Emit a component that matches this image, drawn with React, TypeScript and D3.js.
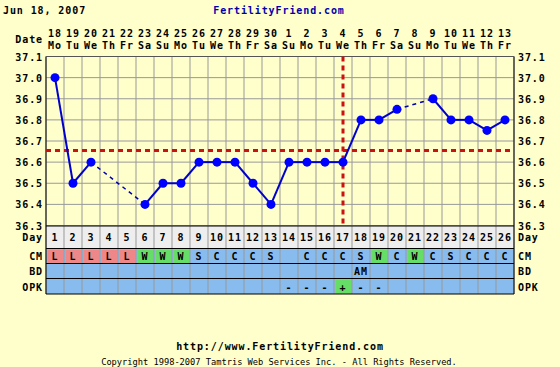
import React from "react";
import * as d3 from "d3";

const days = d3.range(1, 27);
const dates = ["18","19","20","21","22","23","24","25","26","27","28","29","30","1","2","3","4","5","6","7","8","9","10","11","12","13"];
const weekdays = ["Mo","Tu","We","Th","Fr","Sa","Su","Mo","Tu","We","Th","Fr","Sa","Su","Mo","Tu","We","Th","Fr","Sa","Su","Mo","Tu","We","Th","Fr"];
const temps: (number | null)[] = [37.0,36.5,36.6,null,null,36.4,36.5,36.5,36.6,36.6,36.6,36.5,36.4,36.6,36.6,36.6,36.6,36.8,36.8,36.85,null,36.9,36.8,36.8,36.75,36.8];
const yTicks = [37.1,37.0,36.9,36.8,36.7,36.6,36.5,36.4,36.3];
const cm = ["L","L","L","L","L","W","W","W","S","C","C","C","S","","C","C","C","S","W","C","W","C","S","C","C","C"];
const bd = ["","","","","","","","","","","","","","","","","","AM","","","","","","","",""];
const opk = ["","","","","","","","","","","","","","-","-","-","+","-","-","","","","","","",""];
const coverline = 36.655;
const ovulationDay = 17;

const W = 560, H = 367;
const X0 = 46, X1 = 514;
const bg = "#FFFFCC";
const mono = "'DejaVu Sans Mono', monospace";

export default function App() {
  const x = d3.scaleLinear().domain([0.5, 26.5]).range([X0, X1]);
  const y = d3.scaleLinear().domain([36.3, 37.1]).range([225.5, 56.5]);
  const colW = x(2) - x(1);

  const solid: [number, number][][] = [];
  const dashed: [number, number][][] = [];
  let prev: number | null = null;
  temps.forEach((t, i) => {
    if (t == null) return;
    if (prev != null) {
      const seg: [number, number][] = [[prev + 1, temps[prev] as number], [i + 1, t]];
      if (i - prev === 1) solid.push(seg); else dashed.push(seg);
    }
    prev = i;
  });
  const line = d3.line<[number, number]>().x(d => x(d[0])).y(d => y(d[1]));

  const rowDay = [226, 248.5];
  const rowCM = [249, 263.5];
  const rowBD = [264, 278.5];
  const rowOPK = [279, 294];
  const cellColor = (v: string) => (v === "L" ? "#EE8888" : v === "W" || v === "+" ? "#66DD66" : null);

  const txt = { fontFamily: mono, fontWeight: "bold" as const, fontSize: 10, letterSpacing: 0.9 };

  return (
    <svg width={W} height={H} style={{ position: "absolute", left: 0, top: 0, background: bg }}>
      <rect x={0} y={0} width={W} height={H} fill={bg} />
      <text x={3} y={14} {...txt}>Jun 18, 2007</text>
      <text x={279} y={14} {...txt} fill="#0000AA" textAnchor="middle">FertilityFriend.com</text>

      {/* date header */}
      <text x={43} y={43} {...txt} textAnchor="end">Date</text>
      {days.map((d, i) => (
        <g key={"d" + d}>
          <text x={x(d)} y={36.5} {...txt} textAnchor="middle">{dates[i]}</text>
          <text x={x(d)} y={48.5} {...txt} textAnchor="middle">{weekdays[i]}</text>
        </g>
      ))}

      {/* table backgrounds */}
      <rect x={X0} y={rowDay[0]} width={X1 - X0} height={rowDay[1] - rowDay[0]} fill="#EEEEEE" />
      <rect x={X0} y={rowCM[0]} width={X1 - X0} height={rowOPK[1] - rowCM[0]} fill="#88BBEE" />
      {days.map((d, i) => {
        const c1 = cellColor(cm[i]);
        const c2 = cellColor(opk[i]);
        return (
          <g key={"c" + d}>
            {c1 && <rect x={x(d) - colW / 2 + 1.5} y={rowCM[0] + 1} width={colW - 2} height={rowCM[1] - rowCM[0] - 1.5} fill={c1} />}
            {c2 && <rect x={x(d) - colW / 2 + 1.5} y={rowOPK[0] + 1} width={colW - 2} height={rowOPK[1] - rowOPK[0] - 2} fill={c2} />}
          </g>
        );
      })}

      {/* grid */}
      {yTicks.map(t => (
        <line key={"h" + t} x1={X0} x2={X1} y1={y(t)} y2={y(t)} stroke="#999999" strokeWidth={1} />
      ))}
      {d3.range(0, 27).map(k => (
        <line key={"v" + k} x1={X0 + k * colW} x2={X0 + k * colW} y1={y(37.1)} y2={rowOPK[1]} stroke="#999999" strokeWidth={1} />
      ))}
      {/* table borders */}
      {[rowDay[0], rowCM[0] - 0.5, rowBD[0] - 0.5, rowOPK[0] - 0.5, rowOPK[1]].map((yy, k) => (
        <line key={"tb" + k} x1={X0} x2={X1} y1={yy} y2={yy} stroke="#000" strokeWidth={1} />
      ))}
      <line x1={X0} x2={X0} y1={y(37.1)} y2={rowOPK[1]} stroke="#000" strokeWidth={1} />
      <line x1={X1} x2={X1} y1={y(37.1)} y2={rowOPK[1]} stroke="#000" strokeWidth={1} />
      <line x1={X0} x2={X1} y1={y(37.1)} y2={y(37.1)} stroke="#555" strokeWidth={1} />

      {/* axis labels */}
      {yTicks.map(t => (
        <g key={"yl" + t}>
          <text x={43} y={y(t) + 4} {...txt} textAnchor="end">{t.toFixed(1)}</text>
          <text x={518} y={y(t) + 4} {...txt}>{t.toFixed(1)}</text>
        </g>
      ))}

      {/* coverline and ovulation */}
      <line x1={X0} x2={X1} y1={y(coverline)} y2={y(coverline)} stroke="#CC1111" strokeWidth={3} strokeDasharray="5,4" />
      <line x1={x(ovulationDay)} x2={x(ovulationDay)} y1={y(37.1)} y2={y(36.3)} stroke="#CC1111" strokeWidth={3} strokeDasharray="5,4" />

      {/* temperature line */}
      {dashed.map((s, k) => (
        <path key={"ds" + k} d={line(s) || ""} fill="none" stroke="#0000AA" strokeWidth={1.5} strokeDasharray="4,4" />
      ))}
      {solid.map((s, k) => (
        <path key={"ss" + k} d={line(s) || ""} fill="none" stroke="#0000CC" strokeWidth={2} />
      ))}
      {temps.map((t, i) => t == null ? null : (
        <circle key={"p" + i} cx={x(i + 1)} cy={y(t)} r={4.5} fill="#0000FF" />
      ))}

      {/* table text */}
      {[["Day", rowDay], ["CM", rowCM], ["BD", rowBD], ["OPK", rowOPK]].map(([lab, r]: any) => (
        <g key={"rl" + lab}>
          <text x={43} y={(r[0] + r[1]) / 2 + 4} {...txt} textAnchor="end">{lab}</text>
          <text x={518} y={(r[0] + r[1]) / 2 + 4} {...txt}>{lab}</text>
        </g>
      ))}
      {days.map((d, i) => (
        <g key={"tt" + d}>
          <text x={x(d)} y={(rowDay[0] + rowDay[1]) / 2 + 4} {...txt} textAnchor="middle">{d}</text>
          <text x={x(d)} y={(rowCM[0] + rowCM[1]) / 2 + 4} {...txt} textAnchor="middle">{cm[i]}</text>
          <text x={x(d)} y={(rowBD[0] + rowBD[1]) / 2 + 4} {...txt} textAnchor="middle">{bd[i]}</text>
          <text x={x(d)} y={(rowOPK[0] + rowOPK[1]) / 2 + 4} {...txt} textAnchor="middle">{opk[i]}</text>
        </g>
      ))}

      <text x={280} y={350} {...txt} textAnchor="middle">http://www.FertilityFriend.com</text>
      <text x={279} y={365} fontFamily={mono} fontSize={8.7} textAnchor="middle">Copyright 1998-2007 Tamtris Web Services Inc. - All Rights Reserved.</text>
    </svg>
  );
}
